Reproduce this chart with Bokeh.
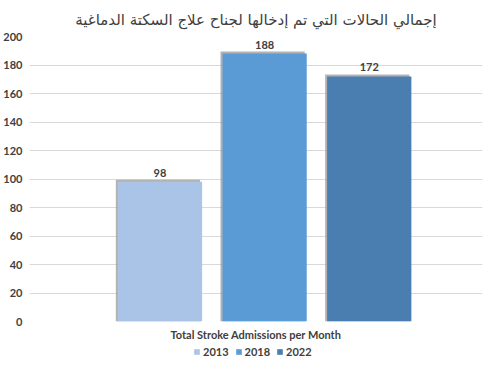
from bokeh.plotting import figure
from bokeh.layouts import column
from bokeh.models import (ColumnDataSource, FactorRange, Legend, LegendItem, LabelSet,
                          SingleIntervalTicker, Range1d)
from bokeh.transform import dodge
from bokeh.core.properties import value
from bokeh.embed import file_html
from bokeh.resources import INLINE

title_text = "إجمالي الحالات التي تم إدخالها لجناح علاج السكتة الدماغية"
category = "Total Stroke Admissions per Month"
years = ["2013", "2018", "2022"]
admissions = [98, 188, 172]
colors = ["#A9C4E6", "#5B9BD5", "#4A7EB0"]

W = 484
H_MAIN, H_LEG = 343, 16
p = figure(width=W, height=H_MAIN, x_range=FactorRange(category), y_range=(0, 200),
           output_backend="svg", toolbar_location=None, title=title_text,
           min_border_left=0, min_border_right=2, min_border_top=0, min_border_bottom=0)
p.outline_line_color = None
p.background_fill_color = "white"
p.border_fill_color = "white"
p.title.align = "center"
p.title.text_font = "DejaVu Sans"
p.title.text_font_size = "15px"
p.title.text_font_style = "normal"
p.title.text_color = "#404040"
p.title.standoff = 16

frame_w = 452.0
px_per_unit = 285.0 / 200.0
offsets = [-0.212, 0.019, 0.25]
bar_w = 0.186

leg = figure(width=W, height=H_LEG, x_range=p.x_range, y_range=Range1d(1000, 1001),
             output_backend="svg", toolbar_location=None, x_axis_type=None, y_axis_type=None,
             min_border_left=0, min_border_right=0, min_border_top=0, min_border_bottom=0)
leg.outline_line_color = None
leg.xgrid.grid_line_color = None
leg.ygrid.grid_line_color = None

legend_items = []
for yr, val, col, off in zip(years, admissions, colors, offsets):
    src = ColumnDataSource(dict(cat=[category], v=[val], lab=[str(val)]))
    p.vbar(x=dodge("cat", off - 2.0 / frame_w, range=p.x_range), top=val + 2.0 / px_per_unit,
           width=bar_w, source=src, fill_color="#9A9A9A", fill_alpha=0.75, line_color=None)
    p.vbar(x=dodge("cat", off, range=p.x_range), top="v", width=bar_w, source=src,
           fill_color=col, line_color=None)
    labels = LabelSet(x=dodge("cat", off, range=p.x_range), y="v", text="lab", source=src,
                      text_align="center", text_baseline="bottom", y_offset=5,
                      text_font=value("Lato"), text_font_style="bold",
                      text_font_size="11px", text_color="#404040")
    p.add_layout(labels)
    # legend swatch renderer: zero-width bar, only its colour is used by the legend
    r = leg.vbar(x=dodge("cat", off, range=p.x_range), top="v", width=0, source=src,
                 fill_color=col, line_color=None)
    legend_items.append(LegendItem(label=yr, renderers=[r]))

p.yaxis.ticker = SingleIntervalTicker(interval=20)
p.ygrid.grid_line_color = "#D9D9D9"
p.xgrid.grid_line_color = None
for ax in (p.xaxis, p.yaxis):
    ax.axis_line_color = None
    ax.major_tick_line_color = None
    ax.minor_tick_line_color = None
    ax.major_label_text_font = "Lato"
    ax.major_label_text_font_style = "bold"
    ax.major_label_text_font_size = "11px"
    ax.major_label_text_color = "#404040"
p.yaxis.major_label_standoff = 1
p.xaxis.major_label_standoff = 0

legend = Legend(items=legend_items, orientation="horizontal", location=(164, 1),
                glyph_width=7, glyph_height=7, label_standoff=3, spacing=6,
                label_height=14, label_width=20, padding=0, margin=0,
                border_line_color=None, background_fill_alpha=0,
                label_text_font="Lato", label_text_font_style="bold",
                label_text_font_size="11px", label_text_color="#404040")
leg.add_layout(legend, "center")

layout = column(p, leg, spacing=0)
open("out.html", "w").write(file_html(layout, INLINE))
